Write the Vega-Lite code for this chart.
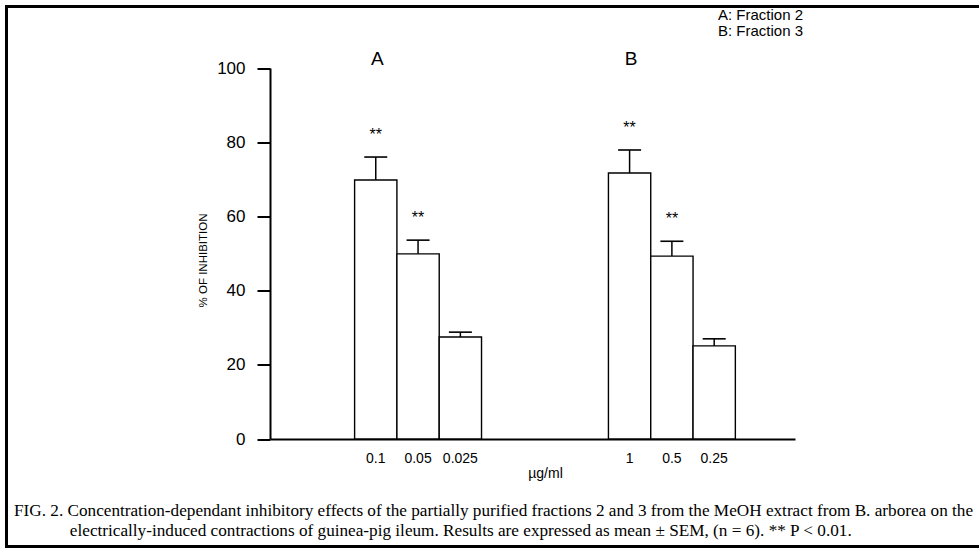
{
  "$schema": "https://vega.github.io/schema/vega-lite/v6.json",
  "width": 990,
  "height": 540,
  "autosize": {"type": "none"},
  "padding": {"left": 6.5, "top": 6.5, "right": -17.5, "bottom": 1.5},
  "background": "white",
  "datasets": {
    "inhibition": [
      {"group": "A", "dose": "0.1", "mean": 69.8, "sem": 6.2, "sig": "**"},
      {"group": "A", "dose": "0.05", "mean": 49.9, "sem": 3.7, "sig": "**"},
      {"group": "A", "dose": "0.025", "mean": 27.5, "sem": 1.3, "sig": ""},
      {"group": "B", "dose": "1", "mean": 71.7, "sem": 6.2, "sig": "**"},
      {"group": "B", "dose": "0.5", "mean": 49.3, "sem": 4.0, "sig": "**"},
      {"group": "B", "dose": "0.25", "mean": 25.1, "sem": 1.9, "sig": ""}
    ],
    "panels": [
      {"label": "A", "dose": "0.1"},
      {"label": "B", "dose": "1"}
    ]
  },
  "title": {
    "text": [
      "FIG. 2.\u00a0Concentration-dependant inhibitory effects of the partially purified fractions 2 and 3 from the MeOH extract from B. arborea on the",
      "\u200b\u00a0\u00a0\u00a0\u00a0\u00a0\u00a0\u00a0\u00a0\u00a0\u00a0\u00a0\u00a0\u00a0electrically-induced contractions of guinea-pig ileum. Results are expressed as mean ± SEM, (n = 6). ** P < 0.01."
    ],
    "orient": "bottom",
    "anchor": "start",
    "frame": "group",
    "offset": -31,
    "dx": 7.5,
    "font": "Liberation Serif",
    "fontSize": 17.2,
    "fontWeight": "normal",
    "color": "black",
    "lineHeight": 20,
    "baseline": "alphabetic"
  },
  "encoding": {
    "x": {
      "field": "dose",
      "type": "nominal",
      "title": "µg/ml",
      "scale": {
        "domain": ["gap1", "gap2", "0.1", "0.05", "0.025", "gap3", "gap4", "gap5", "1", "0.5", "0.25"],
        "range": [263.5, 788.5],
        "paddingInner": 0,
        "paddingOuter": 0.705,
        "align": 0
      },
      "axis": {"values": ["0.1", "0.05", "0.025", "1", "0.5", "0.25"]}
    }
  },
  "layer": [
    {
      "data": {"name": "inhibition"},
      "mark": {"type": "bar", "stroke": "black", "strokeWidth": 1.4, "opacity": 1, "fillOpacity": 1},
      "encoding": {
        "y": {"field": "mean", "type": "quantitative", "title": "% OF INHIBITION",
              "scale": {"domain": [0, 100], "range": [432.5, 61.5], "nice": false}},
        "color": {
          "field": "group", "type": "nominal",
          "scale": {"domain": ["A", "B"], "range": ["white", "white"]},
          "legend": {
            "title": null, "orient": "none", "legendX": 696.5, "legendY": 1,
            "labelExpr": "datum.label == 'A' ? 'A: Fraction 2' : 'B: Fraction 3'"
          }
        }
      }
    },
    {
      "data": {"name": "inhibition"},
      "transform": [{"calculate": "datum.mean + datum.sem", "as": "upper"}],
      "mark": {"type": "rule", "color": "black", "strokeWidth": 1.5},
      "encoding": {
        "y": {"field": "mean", "type": "quantitative", "title": "% OF INHIBITION",
              "scale": {"domain": [0, 100], "range": [432.5, 61.5], "nice": false}},
        "y2": {"field": "upper"}
      }
    },
    {
      "data": {"name": "inhibition"},
      "transform": [{"calculate": "datum.mean + datum.sem", "as": "upper"}],
      "mark": {"type": "tick", "orient": "horizontal", "color": "black", "size": 23, "thickness": 1.6, "opacity": 1},
      "encoding": {
        "y": {"field": "upper", "type": "quantitative", "title": "% OF INHIBITION",
              "scale": {"domain": [0, 100], "range": [432.5, 61.5], "nice": false}}
      }
    },
    {
      "data": {"name": "inhibition"},
      "transform": [{"calculate": "datum.mean + datum.sem", "as": "upper"}],
      "mark": {"type": "text", "font": "Liberation Sans", "fontSize": 16, "color": "black", "baseline": "middle", "dy": -22},
      "encoding": {
        "y": {"field": "upper", "type": "quantitative", "title": "% OF INHIBITION",
              "scale": {"domain": [0, 100], "range": [432.5, 61.5], "nice": false}},
        "text": {"field": "sig"}
      }
    },
    {
      "data": {"name": "panels"},
      "mark": {"type": "text", "font": "Liberation Sans", "fontSize": 19, "color": "black", "baseline": "middle", "dx": 1.5},
      "encoding": {
        "y": {"datum": 102.4, "type": "quantitative",
              "scale": {"domain": [0, 100], "range": [432.5, 61.5], "nice": false}},
        "text": {"field": "label"}
      }
    }
  ],
  "config": {
    "view": {"stroke": "black", "strokeWidth": 3, "fill": "white"},
    "font": "Liberation Sans",
    "axis": {
      "grid": false,
      "domainColor": "black",
      "tickColor": "black",
      "labelColor": "black",
      "titleColor": "black",
      "labelFont": "Liberation Sans",
      "titleFont": "Liberation Sans",
      "titleFontWeight": "normal"
    },
    "axisY": {
      "offset": -263.5,
      "tickCount": 5,
      "tickSize": 13,
      "tickWidth": 2,
      "domainWidth": 2,
      "labelFontSize": 17,
      "labelPadding": 12,
      "titleFontSize": 11.5,
      "titleX": -67,
      "titleY": 253.5,
      "titleBaseline": "middle",
      "titleAlign": "center",
      "titleAngle": 270
    },
    "axisX": {
      "offset": -107.5,
      "ticks": false,
      "tickSize": 0,
      "domainWidth": 2,
      "labelFontSize": 14,
      "labelPadding": 12,
      "labelAngle": 0,
      "titleFontSize": 14,
      "titleX": 538.5,
      "titleY": 38,
      "titleBaseline": "alphabetic",
      "titleAlign": "center"
    },
    "legend": {
      "labelFont": "Liberation Sans",
      "labelFontSize": 15,
      "labelColor": "black",
      "symbolSize": 0,
      "symbolOpacity": 0,
      "symbolStrokeWidth": 0,
      "labelOffset": 0,
      "rowPadding": -1,
      "padding": 0
    }
  }
}
